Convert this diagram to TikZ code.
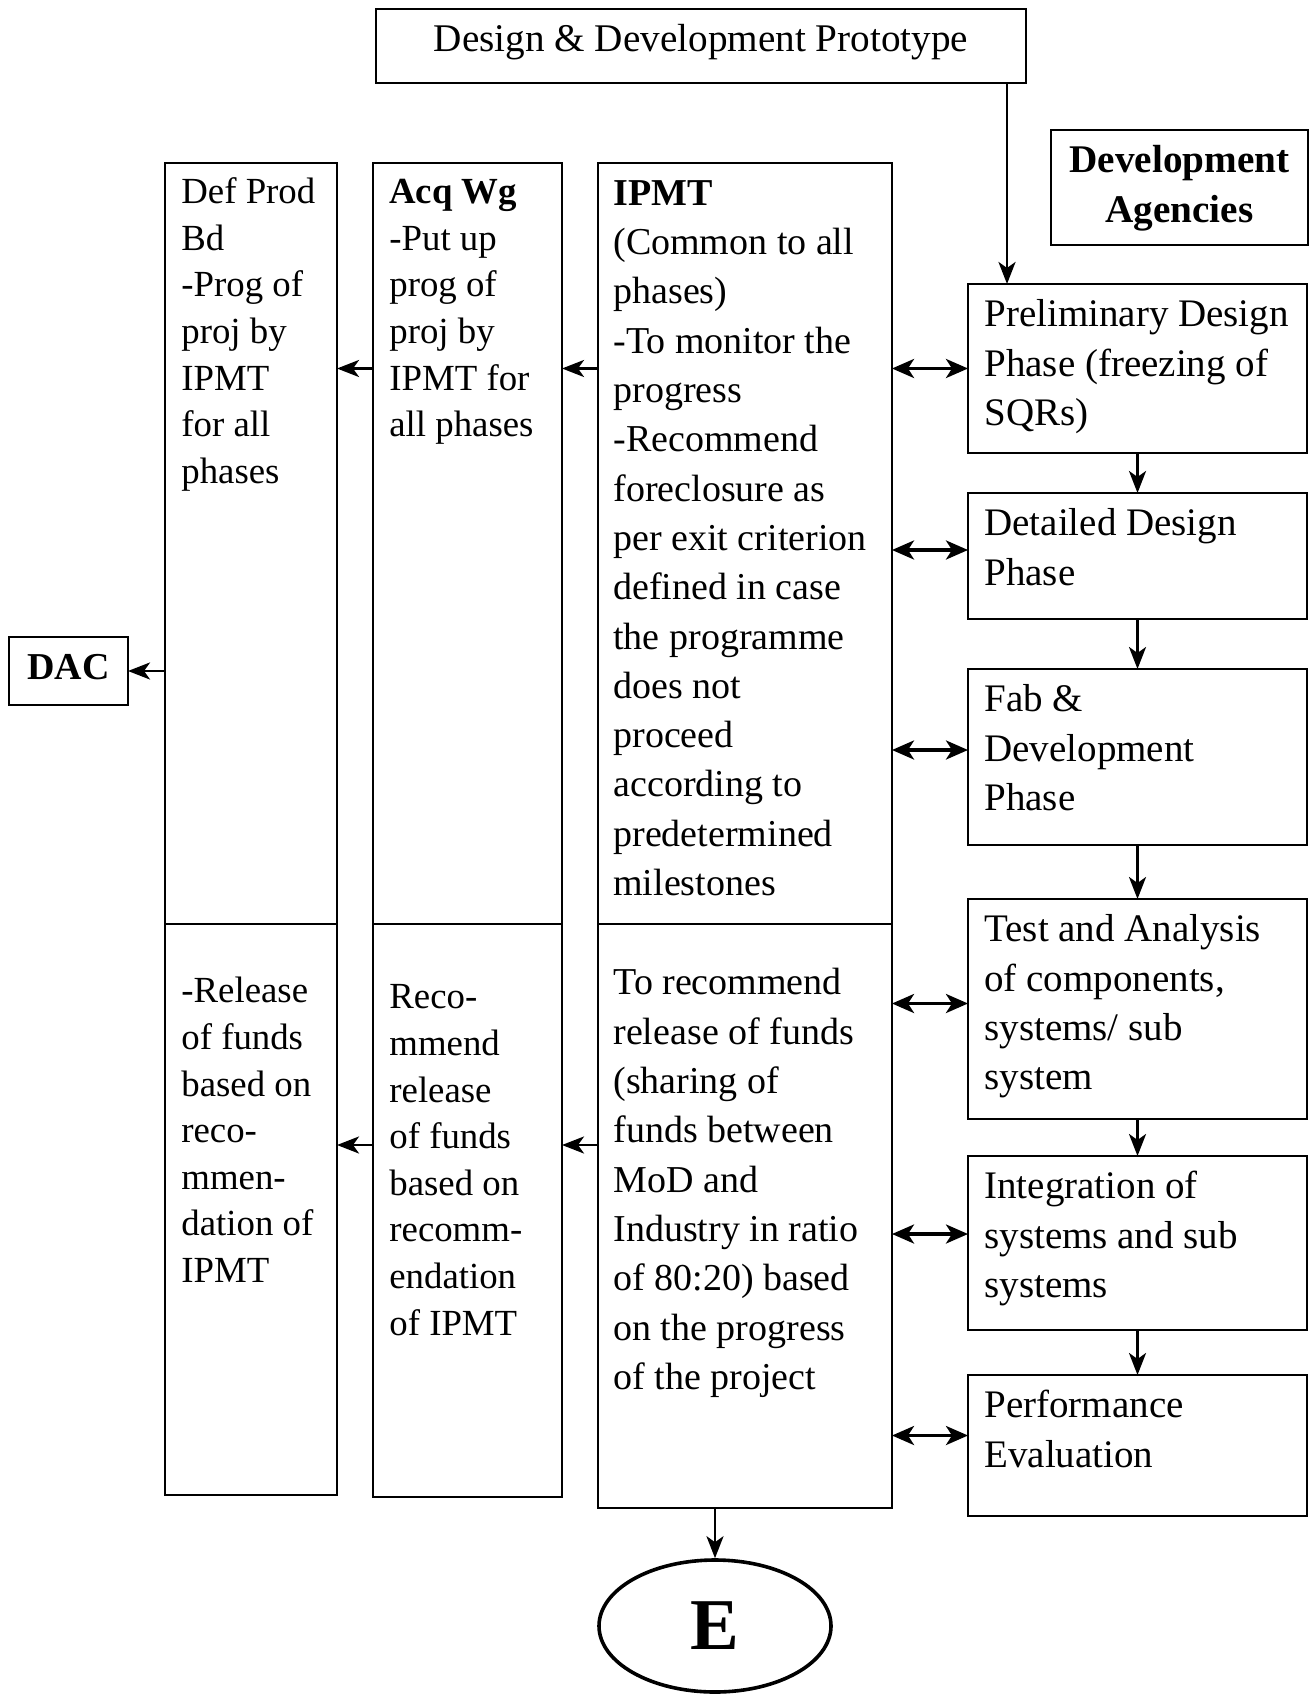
\documentclass[tikz,border=0pt]{standalone}
\usepackage{fontspec}
\setmainfont{Liberation Serif}
\usetikzlibrary{calc,fit,shapes.geometric,arrows.meta}
\newcommand{\fsz}[2]{\fontsize{#1}{#2}\selectfont}

\begin{document}
\begin{tikzpicture}[x=0.5pt,y=-0.5pt,
  >={Stealth[length=11pt,width=8.5pt,inset=3pt]},
  box/.style={draw,line width=1.35pt,inner sep=0pt,outer sep=0pt},
  txt/.style={anchor=north west,inner sep=0pt,align=left},
  txtbig/.style={font=\fsz{19.5}{24.65}},
  txtmid/.style={font=\fsz{19}{24.65}},
  txtsmall/.style={font=\fsz{18.4}{23.3}},
  arr/.style={->,line width=1.4pt},
  dbl/.style={{Stealth[length=11pt,width=9.5pt,inset=3pt]}-{Stealth[length=11pt,width=9.5pt,inset=3pt]},line width=1.7pt}]
  \useasboundingbox (0,0) rectangle (1312,1695);

  % Prototype
  \node[box,fit={(376,9) (1026,83)}] (proto) {};
  \node[anchor=base,inner sep=0pt,font=\fsz{19.6}{24}] (prototxt) at ($(proto.center)+(0,-3pt)$) {Design \& Development Prototype};

  % Development Agencies
  \node[box,fit={(1051,130) (1308,245)}] (devag) {};
  \node[anchor=north,inner sep=0pt,align=center,font=\bfseries\fsz{19.6}{24.9}] (devagtxt) at ($(devag.north)+(0,-3.5pt)$) {\strut Development\\Agencies};

  % DAC
  \node[box,fit={(9,637) (128,705)}] (dac) {};
  \node[anchor=base,inner sep=0pt,font=\bfseries\fsz{19}{24}] (dactxt) at ($(dac.center)+(0,-4.2pt)$) {DAC};

  % Def Prod Bd
  \node[box,fit={(165,163) (337,924)}] (defprod) {};
  \node[txt,txtsmall] (defprodtxt) at ($(defprod.north west)+(8pt,-3.8pt)$) {\strut Def Prod\\Bd\\-Prog of\\proj by\\IPMT\\for all\\phases};
  \node[box,fit={(165,924) (337,1495)}] (defprodlow) {};
  \node[txt,txtsmall] (defprodlowtxt) at ($(defprodlow.north west)+(8pt,-22.9pt)$) {\strut -Release\\of funds\\based on\\reco-\\mmen-\\dation of\\IPMT};

  % Acq Wg
  \node[box,fit={(373,163) (562,924)}] (acqwg) {};
  \node[txt,txtsmall] (acqwgtxt) at ($(acqwg.north west)+(8pt,-3.8pt)$) {\strut\textbf{Acq Wg}\\-Put up\\prog of\\proj by\\IPMT for\\all phases};
  \node[box,fit={(373,924) (562,1497)}] (acqwglow) {};
  \node[txt,txtsmall] (acqwglowtxt) at ($(acqwglow.north west)+(8pt,-25.9pt)$) {\strut Reco-\\mmend\\release\\of funds\\based on\\recomm-\\endation\\of IPMT};

  % IPMT
  \node[box,fit={(598,163) (892,924)}] (ipmt) {};
  \node[txt,txtmid] (ipmttxt) at ($(ipmt.north west)+(7.5pt,-3.7pt)$) {\strut\textbf{IPMT}\\(Common to all\\phases)\\-To monitor the\\progress\\-Recommend\\foreclosure as\\per exit criterion\\defined in case\\the programme\\does not\\proceed\\according to\\predetermined\\milestones};
  \node[box,fit={(598,924) (892,1508)}] (ipmtlow) {};
  \node[txt,txtmid] (ipmtlowtxt) at ($(ipmtlow.north west)+(7.5pt,-18pt)$) {\strut To recommend\\release of funds\\(sharing of\\funds between\\MoD and\\Industry in ratio\\of 80:20) based\\on the progress\\of the project};

  % Phases
  \node[box,fit={(968,284) (1307,453)}] (prelim) {};
  \node[txt,txtbig] (prelimtxt) at ($(prelim.north west)+(8pt,-4pt)$) {\strut Preliminary Design\\Phase (freezing of\\SQRs)};
  \node[box,fit={(968,493) (1307,619)}] (detail) {};
  \node[txt,txtbig] (detailtxt) at ($(detail.north west)+(8pt,-4pt)$) {\strut Detailed Design\\Phase};
  \node[box,fit={(968,669) (1307,845)}] (fab) {};
  \node[txt,txtbig] (fabtxt) at ($(fab.north west)+(8pt,-4pt)$) {\strut Fab \&\\Development\\Phase};
  \node[box,fit={(968,899) (1307,1119)}] (test) {};
  \node[txt,txtbig] (testtxt) at ($(test.north west)+(8pt,-4pt)$) {\strut Test and Analysis\\of components,\\systems/ sub\\system};
  \node[box,fit={(968,1156) (1307,1330)}] (integ) {};
  \node[txt,txtbig] (integtxt) at ($(integ.north west)+(8pt,-4pt)$) {\strut Integration of\\systems and sub\\systems};
  \node[box,fit={(968,1375) (1307,1516)}] (perf) {};
  \node[txt,txtbig] (perftxt) at ($(perf.north west)+(8pt,-4pt)$) {\strut Performance\\Evaluation};

  % E
  \node[draw,ellipse,line width=1.8pt,minimum width=116pt,minimum height=66pt,inner sep=0pt,font=\bfseries\fsz{36.5}{40}] (endE) at (715,1626) {E};

  % Flow through the phases
  \draw[arr] ([xshift=-9.5pt]proto.south east) -- ([xshift=-9.5pt]proto.south east |- prelim.north);
  \draw[arr] (prelim.south) -- (detail.north);
  \draw[arr] (detail.south) -- (fab.north);
  \draw[arr] (fab.south) -- (test.north);
  \draw[arr] (test.south) -- (integ.north);
  \draw[arr] (integ.south) -- (perf.north);

  % IPMT <-> phases
  \coordinate (detailrow) at ([yshift=3pt]detail.west);
  \coordinate (fabrow) at ([yshift=3.5pt]fab.west);
  \coordinate (testrow) at ([yshift=2.75pt]test.west);
  \coordinate (integrow) at ([yshift=4.5pt]integ.west);
  \coordinate (perfrow) at ([yshift=5pt]perf.west);
  \draw[dbl] (ipmt.east |- prelim.west) -- (prelim.west);
  \draw[dbl] (ipmt.east |- detailrow) -- (detailrow);
  \draw[dbl] (ipmt.east |- fabrow) -- (fabrow);
  \draw[dbl] (ipmtlow.east |- testrow) -- (testrow);
  \draw[dbl] (ipmtlow.east |- integrow) -- (integrow);
  \draw[dbl] (ipmtlow.east |- perfrow) -- (perfrow);

  % Reports to the left
  \draw[arr] (ipmt.west |- prelim.west) -- (acqwg.east |- prelim.west);
  \draw[arr] (acqwg.west |- prelim.west) -- (defprod.east |- prelim.west);
  \draw[arr] (defprod.west |- dac.east) -- (dac.east);
  \coordinate (fundrow) at (0,1145);
  \draw[arr] (ipmtlow.west |- fundrow) -- (acqwglow.east |- fundrow);
  \draw[arr] (acqwglow.west |- fundrow) -- (defprodlow.east |- fundrow);
  \draw[arr] (ipmtlow.south -| endE.north) -- (endE.north);

\end{tikzpicture}
\end{document}
